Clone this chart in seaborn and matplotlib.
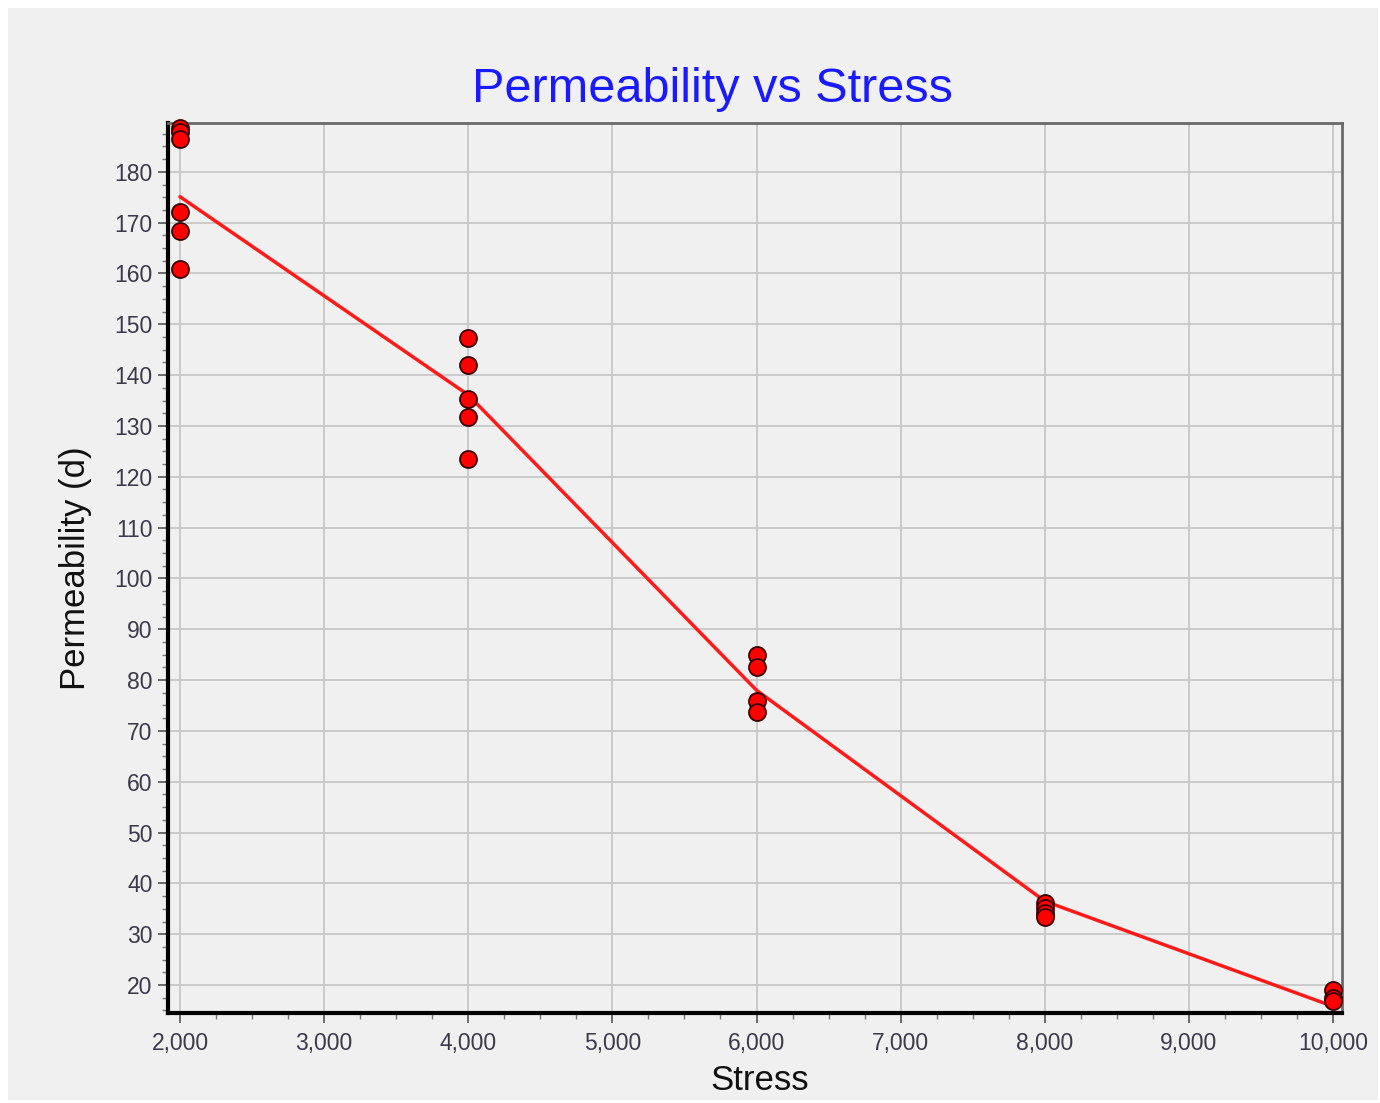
import matplotlib
matplotlib.use("Agg")
import matplotlib.pyplot as plt
import seaborn as sns
import pandas as pd
from matplotlib.ticker import MultipleLocator, FuncFormatter
from matplotlib.patches import Rectangle

# ---- data ----
stress_pts = [2000]*6 + [4000]*5 + [6000]*4 + [8000]*4 + [10000]*3
perm_pts = [188.6, 187.8, 186.4, 172.0, 168.4, 160.9,
            147.3, 142.0, 135.3, 131.8, 123.5,
            84.9, 82.6, 75.9, 73.7,
            36.1, 35.2, 34.2, 33.4,
            19.0, 17.4, 16.8]
fit_stress = [2000, 4000, 6000, 8000, 10000]
fit_perm = [175.1, 136.1, 78.0, 36.5, 15.8]

title = "Permeability vs Stress"
xlabel = "Stress"
ylabel = "Permeability (d)"

pts = pd.DataFrame({"Stress": stress_pts, "Perm": perm_pts})
fit = pd.DataFrame({"Stress": fit_stress, "Perm": fit_perm})

sns.set_style("ticks")
plt.rcParams['font.family'] = ['Liberation Sans', 'DejaVu Sans']

W, H = 1380, 1103
fig = plt.figure(figsize=(W/100, H/100), dpi=100)
fig.patch.set_facecolor("white")
fig.patches.append(Rectangle((8/W, 3/H), (1378-8)/W, (1095-3)/H, transform=fig.transFigure,
                             facecolor="#f0f0f0", edgecolor="none", zorder=-10))

ax = fig.add_axes([168/W, 1-1013/H, (1342-168)/W, (1013-123)/H])
ax.set_facecolor("#f0f0f0")

sns.lineplot(data=fit, x="Stress", y="Perm", ax=ax, color="#ff1a1a", linewidth=2.5, zorder=3)
sns.scatterplot(data=pts, x="Stress", y="Perm", ax=ax, color="#ff0000", edgecolor="#3a0000",
                linewidth=1.3, s=150, zorder=4, clip_on=False)

ax.set_xlim(1917, 10062)
ax.set_ylim(14.5, 189.6)

ax.xaxis.set_major_locator(MultipleLocator(1000))
ax.xaxis.set_minor_locator(MultipleLocator(250))
ax.yaxis.set_minor_locator(MultipleLocator(2.5))
ax.set_yticks([v for v in range(20, 181, 10)])
ax.xaxis.set_major_formatter(FuncFormatter(lambda v, p: f"{int(v):,}"))

ax.grid(True, which="major", color="#c8c8c8", linewidth=1.3)
ax.set_axisbelow(True)

ax.tick_params(axis="both", which="major", length=7, width=1.2, color="#555555",
               labelsize=16.5, labelcolor="#3a3a4a", direction="out")
ax.tick_params(axis="x", which="major", pad=7)
ax.tick_params(axis="y", which="major", pad=4)
ax.tick_params(axis="both", which="minor", length=4, width=1.0, color="#777777", direction="out")

for s in ["left", "bottom"]:
    ax.spines[s].set_color("black")
    ax.spines[s].set_linewidth(3)
for s in ["top", "right"]:
    ax.spines[s].set_color("#6a6a6a")
    ax.spines[s].set_linewidth(2)

ax.set_xlabel(xlabel, fontsize=25, color="#111111")
ax.xaxis.set_label_coords((760-168)/(1342-168), -(1064-1013)/(1013-123))
ax.set_ylabel(ylabel, fontsize=25, color="#111111", labelpad=16)
ax.set_title(title, fontsize=35, color="#1a1aff", pad=15, x=(712-168)/(1342-168))

fig.savefig("out.png", dpi=100, facecolor=fig.get_facecolor())
